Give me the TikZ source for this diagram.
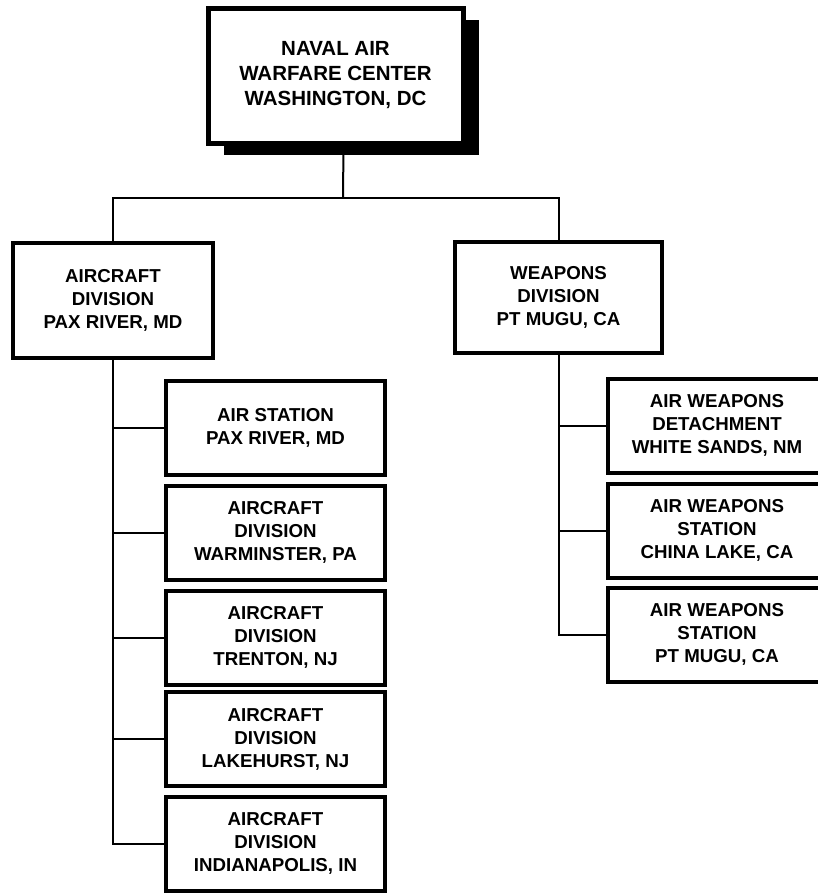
\documentclass[tikz,border=0pt]{standalone}
\usepackage{fontspec}
\setmainfont{Liberation Sans}
\usetikzlibrary{shadows}

\begin{document}
\begin{tikzpicture}[x=1pt, y=-1pt,
box/.style  = {draw, line width=4pt, align=center, inner sep=2pt,
               font=\bfseries\fontsize{18.7}{23}\selectfont},
sub/.style  = {box, minimum width=219pt, minimum height=94pt},
link/.style = {draw, line width=2pt}
                    ]
\useasboundingbox (0,0) rectangle (818,894);
% headquarters
\node[box, line width=5pt, minimum width=255pt, minimum height=135pt,
      font=\bfseries\fontsize{20.5}{25}\selectfont,
      drop shadow={shadow xshift=16pt, shadow yshift=-12pt, fill=black, opacity=1},
      fill=white] (navc) at (335.5,75.5)
      {NAVAL AIR\\ WARFARE CENTER\\ WASHINGTON, DC};
\coordinate (hub) at (343,198);
% divisions
\node[box, minimum width=200pt, minimum height=115pt] (acd) at (113,300.5)
      {AIRCRAFT\\ DIVISION\\ PAX RIVER, MD};
\node[box, minimum width=207pt, minimum height=111pt] (wpd) at (558.5,297.5)
      {WEAPONS\\ DIVISION\\ PT MUGU, CA};
% aircraft sites
\node[sub] (ac1) at (275.5,428)   {AIR STATION\\ PAX RIVER, MD};
\node[sub] (ac2) at (275.5,532.5) {AIRCRAFT\\ DIVISION\\ WARMINSTER, PA};
\node[sub] (ac3) at (275.5,637.5) {AIRCRAFT\\ DIVISION\\ TRENTON, NJ};
\node[sub] (ac4) at (275.5,739)   {AIRCRAFT\\ DIVISION\\ LAKEHURST, NJ};
\node[sub] (ac5) at (275.5,843.5) {AIRCRAFT\\ DIVISION\\ INDIANAPOLIS, IN};
% weapons sites
\node[sub, minimum width=218pt] (wp1) at (717,425.5) {AIR WEAPONS\\ DETACHMENT\\ WHITE SANDS, NM};
\node[sub, minimum width=218pt] (wp2) at (717,530.5) {AIR WEAPONS\\ STATION\\ CHINA LAKE, CA};
\node[sub, minimum width=218pt] (wp3) at (717,634.5) {AIR WEAPONS\\ STATION\\ PT MUGU, CA};
% connectors
\draw[link] ([xshift=8pt]navc.south) -- (hub);
\draw[link] (acd.north) |- (hub) -| (wpd.north);
\draw[link] (acd.south) |- (ac5.west);
\foreach \i in {1,...,4}
    \draw[link] (acd.south |- ac\i.west) -- (ac\i.west);
\draw[link] (wpd.south) |- (wp3.west);
\foreach \i in {1,2}
    \draw[link] (wpd.south |- wp\i.west) -- (wp\i.west);
\end{tikzpicture}
\end{document}
